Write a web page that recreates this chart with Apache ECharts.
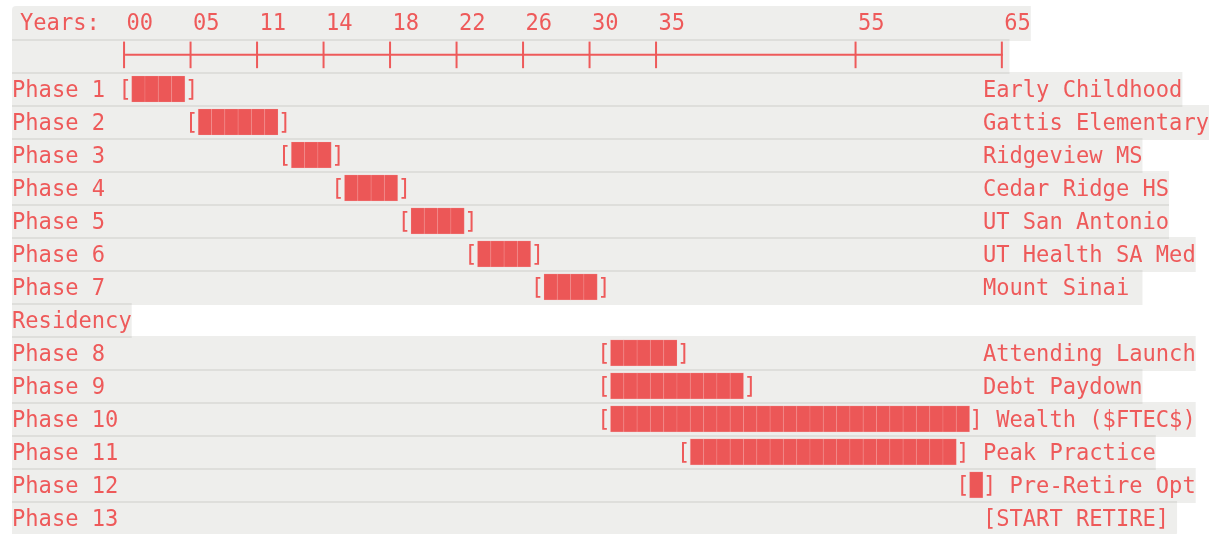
<!DOCTYPE html>
<html>
<head>
<meta charset="utf-8">
<title>Phases timeline</title>
<script src="https://cdn.jsdelivr.net/npm/echarts@6/dist/echarts.min.js"></script>
<style>
  html, body { margin: 0; padding: 0; background: #fff; }
  #chart { width: 1212px; height: 534px; }
</style>
</head>
<body>
<div id="chart"></div>
<script>
// ---- data (columns are character cells of the monospace grid) ----
const yearLabels = ['00', '05', '11', '14', '18', '22', '26', '30', '35', '55', '65']
const yearCols = [8, 13, 18, 23, 28, 33, 38, 43, 48, 63, 74]

const phaseNames = ['Phase 1', 'Phase 2', 'Phase 3', 'Phase 4', 'Phase 5', 'Phase 6', 'Phase 7',
  'Phase 8', 'Phase 9', 'Phase 10', 'Phase 11', 'Phase 12', 'Phase 13']
const phaseLabels = ['Early Childhood', 'Gattis Elementary', 'Ridgeview MS', 'Cedar Ridge HS',
  'UT San Antonio', 'UT Health SA Med', 'Mount Sinai Residency', 'Attending Launch',
  'Debt Paydown', 'Wealth ($FTEC$)', 'Peak Practice', 'Pre-Retire Opt', '[START RETIRE]']
// column of "[" and "]" for each phase bar (null = no bar)
const barOpen = [8, 13, 20, 24, 29, 34, 39, 44, 44, 44, 50, 71, null]
const barClose = [13, 20, 24, 29, 34, 39, 44, 50, 55, 72, 71, 73, null]

// ---- layout ----
const CHAR_W = 13.3
const FONT = 22.1
const TEXT_DY = 3
const PAD = 8
const MAX_COLS = 90
const LABEL_COL = 73
const RED = '#ee5a5a'
const BAR = '#ec5757'
const BG = 'rgba(30,30,0,0.075)'

// build the text lines (with wrapping like the terminal did)
const lines = []
lines.push({ kind: 'years', end: yearCols[yearCols.length - 1] + 2 })
lines.push({ kind: 'ruler', end: yearCols[yearCols.length - 1] + 1 })
phaseNames.forEach((name, i) => {
  const items = [{ col: 0, text: name }]
  let bar = null
  let labelCol = LABEL_COL
  if (barOpen[i] != null) {
    items.push({ col: barOpen[i], text: '[' }, { col: barClose[i], text: ']' })
    bar = [barOpen[i] + 1, barClose[i]]
    labelCol = Math.max(LABEL_COL, barClose[i] + 2)
  }
  let label = phaseLabels[i]
  let rest = ''
  if (labelCol + label.length > MAX_COLS) {
    const cut = label.lastIndexOf(' ', MAX_COLS - labelCol)
    rest = label.slice(cut + 1)
    label = label.slice(0, cut + 1)
  }
  items.push({ col: labelCol, text: label })
  lines.push({ kind: 'phase', items, bar, end: labelCol + label.length })
  if (rest) lines.push({ kind: 'phase', items: [{ col: 0, text: rest }], bar: null, end: rest.length })
})

const lineData = lines.map((l, i) => [l.end, i])

function txt(x, y, text) {
  return {
    type: 'text',
    style: { text, x, y: y + TEXT_DY, fill: RED, fontFamily: 'DejaVu Sans Mono', fontSize: FONT, align: 'left', verticalAlign: 'middle' }
  }
}

const chart = echarts.init(document.getElementById('chart'), null, { renderer: 'canvas' })

chart.setOption({
  animation: false,
  grid: { left: 12, right: 0, top: 6.1, height: 33.1 * lines.length },
  xAxis: { type: 'value', min: 0, max: 1200 / CHAR_W, show: false },
  yAxis: { type: 'value', min: -0.5, max: lines.length - 0.5, inverse: true, show: false },
  series: [
    {
      // line backgrounds
      type: 'custom',
      z: 1,
      data: lineData,
      renderItem(params, api) {
        const i = params.dataIndex
        const row = api.value(1)
        const a = api.coord([0, row])
        const b = api.coord([api.value(0), row])
        let right = b[0]
        let r = 0
        if (i === 0) { right += PAD; r = [4, 0, 0, 0] }
        if (i === lines.length - 1) { right += PAD; r = [0, 0, 4, 0] }
        return {
          type: 'rect',
          shape: { x: a[0], y: a[1] - 16.6, width: right - a[0], height: 35, r },
          style: { fill: BG }
        }
      }
    },
    {
      // content
      type: 'custom',
      z: 2,
      data: lineData,
      renderItem(params, api) {
        const line = lines[params.dataIndex]
        const row = api.value(1)
        const y = api.coord([0, row])[1]
        const children = []
        if (line.kind === 'years') {
          children.push(txt(api.coord([0, row])[0] + PAD, y - 1.5, 'Years:'))
          yearCols.forEach((c, k) => {
            children.push(txt(api.coord([c, row])[0] + PAD, y - 1.5, yearLabels[k]))
          })
        } else if (line.kind === 'ruler') {
          const x0 = api.coord([yearCols[0] + 0.5, row])[0]
          const x1 = api.coord([yearCols[yearCols.length - 1] + 0.5, row])[0]
          children.push({
            type: 'line',
            shape: { x1: x0, y1: y - 0.75, x2: x1, y2: y - 0.75 },
            style: { stroke: RED, lineWidth: 2 }
          })
          yearCols.forEach(c => {
            const x = api.coord([c + 0.5, row])[0] - 1
            children.push({
              type: 'line',
              shape: { x1: x, y1: y - 14, x2: x, y2: y + 12.6 },
              style: { stroke: RED, lineWidth: 2 }
            })
          })
        } else {
          if (line.bar) {
            for (let c = line.bar[0]; c < line.bar[1]; c++) {
              const x = api.coord([c, row])[0]
              const w = api.coord([c + 1, row])[0] - x
              children.push({
                type: 'rect',
                shape: { x, y: y - 12.6, width: w, height: 26 },
                style: { fill: BAR, stroke: 'rgba(255,190,190,0.3)', lineWidth: 0.6 }
              })
            }
          }
          line.items.forEach(it => {
            children.push(txt(api.coord([it.col, row])[0], y, it.text))
          })
        }
        return { type: 'group', children }
      }
    }
  ]
})
</script>
</body>
</html>
